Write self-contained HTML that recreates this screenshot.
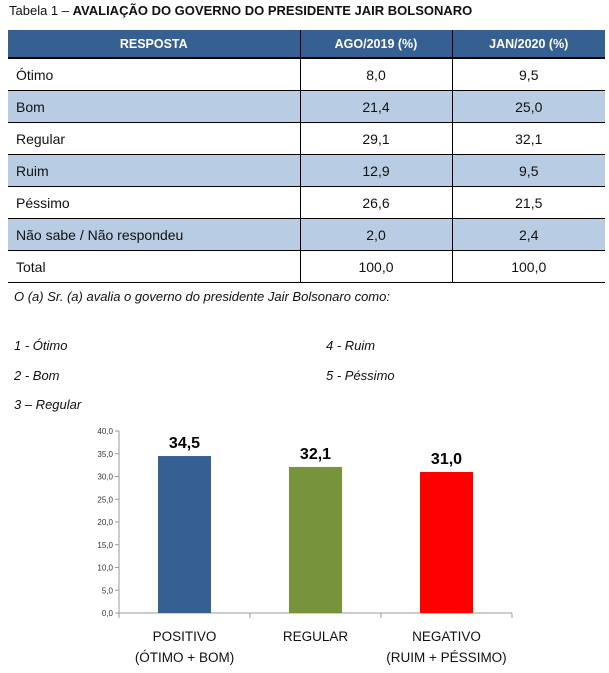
<!DOCTYPE html>
<html><head><meta charset="utf-8"><style>
body{margin:0;width:609px;height:673px;background:#fff;font-family:"Liberation Sans",sans-serif;color:#111;position:relative;overflow:hidden}
.t{position:absolute;white-space:nowrap}
table{position:absolute;left:8px;top:30px;width:597px;border-collapse:collapse;font-size:14px}
td,th{height:31px;padding:0 8px;border-bottom:1px solid #000}
th{background:#376092;color:#fff;font-size:12.5px;height:27px;border-bottom:2px solid #000}
td+td,th+th{border-left:1px solid #000;text-align:center}
tr.b td{background:#b8cce4}
.i{font-style:italic;font-size:13px}
</style></head><body>
<div class="t" style="left:9px;top:3px;font-size:13px">Tabela 1 – <b>AVALIAÇÃO DO GOVERNO DO PRESIDENTE JAIR BOLSONARO</b></div>
<table>
<colgroup><col style="width:292px"><col style="width:152px"><col></colgroup>
<tr><th>RESPOSTA</th><th>AGO/2019 (%)</th><th>JAN/2020 (%)</th></tr>
<tr><td>Ótimo</td><td>8,0</td><td>9,5</td></tr>
<tr class="b"><td>Bom</td><td>21,4</td><td>25,0</td></tr>
<tr><td>Regular</td><td>29,1</td><td>32,1</td></tr>
<tr class="b"><td>Ruim</td><td>12,9</td><td>9,5</td></tr>
<tr><td>Péssimo</td><td>26,6</td><td>21,5</td></tr>
<tr class="b"><td>Não sabe / Não respondeu</td><td>2,0</td><td>2,4</td></tr>
<tr><td>Total</td><td>100,0</td><td>100,0</td></tr>
</table>
<div class="t i" style="left:14px;top:289px">O (a) Sr. (a) avalia o governo do presidente Jair Bolsonaro como:</div>
<div class="t i" style="left:14px;top:338px">1 - Ótimo</div>
<div class="t i" style="left:14px;top:368px">2 - Bom</div>
<div class="t i" style="left:14px;top:397px">3 – Regular</div>
<div class="t i" style="left:326px;top:338px">4 - Ruim</div>
<div class="t i" style="left:326px;top:368px">5 - Péssimo</div>
<svg id="chart" style="position:absolute;left:0;top:0" width="609" height="673"></svg>
<script>
const categories=["POSITIVO|(ÓTIMO + BOM)","REGULAR","NEGATIVO|(RUIM + PÉSSIMO)"];
const values=[34.5,32.1,31.0];
const valueLabels=["34,5","32,1","31,0"];
const colors=["#376092","#77933c","#ff0000"];
const yTicks=[0,5,10,15,20,25,30,35,40];
const tickLabels=["0,0","5,0","10,0","15,0","20,0","25,0","30,0","35,0","40,0"];
const svg=document.getElementById('chart'),NS="http://www.w3.org/2000/svg";
const x0=119,x1=512,y0=613,y1=431,ymax=40;
const y=v=>y0-(v/ymax)*(y0-y1);
const band=(x1-x0)/categories.length;
function mk(t,a,txt){const e=document.createElementNS(NS,t);for(const k in a)e.setAttribute(k,a[k]);if(txt!=null)e.textContent=txt;svg.appendChild(e);return e;}
let e=mk('line',{x1:x0,y1:y1,x2:x0,y2:y0,stroke:'#999'});

e=mk('line',{x1:x0,y1:y0,x2:x1,y2:y0,stroke:'#999'});

yTicks.forEach((v,i)=>{
 const l=mk('line',{x1:x0-4,y1:y(v),x2:x0,y2:y(v),stroke:'#999'});
 
 const t=mk('text',{x:x0-6,y:y(v)+3,'text-anchor':'end','font-size':'8','fill':'#333'},tickLabels[i]);
 
});
for(let i=0;i<=categories.length;i++){const l=mk('line',{x1:x0+i*band,y1:y0,x2:x0+i*band,y2:y0+5,stroke:'#999'});
 }
categories.forEach((c,i)=>{
 const cx=x0+band*(i+0.5),w=53;
 const r=mk('rect',{x:cx-w/2,y:y(values[i]),width:w,height:y0-y(values[i]),fill:colors[i]});
 
 const v=mk('text',{x:cx,y:y(values[i])-8,'text-anchor':'middle','font-size':'16','font-weight':'bold','fill':'#000'},valueLabels[i]);
 
 c.split('|').forEach((p,j)=>{const t=mk('text',{x:cx,y:641+j*21,'text-anchor':'middle','font-size':'13.5','fill':'#111'},p);
 });
});
</script>
</body></html>
